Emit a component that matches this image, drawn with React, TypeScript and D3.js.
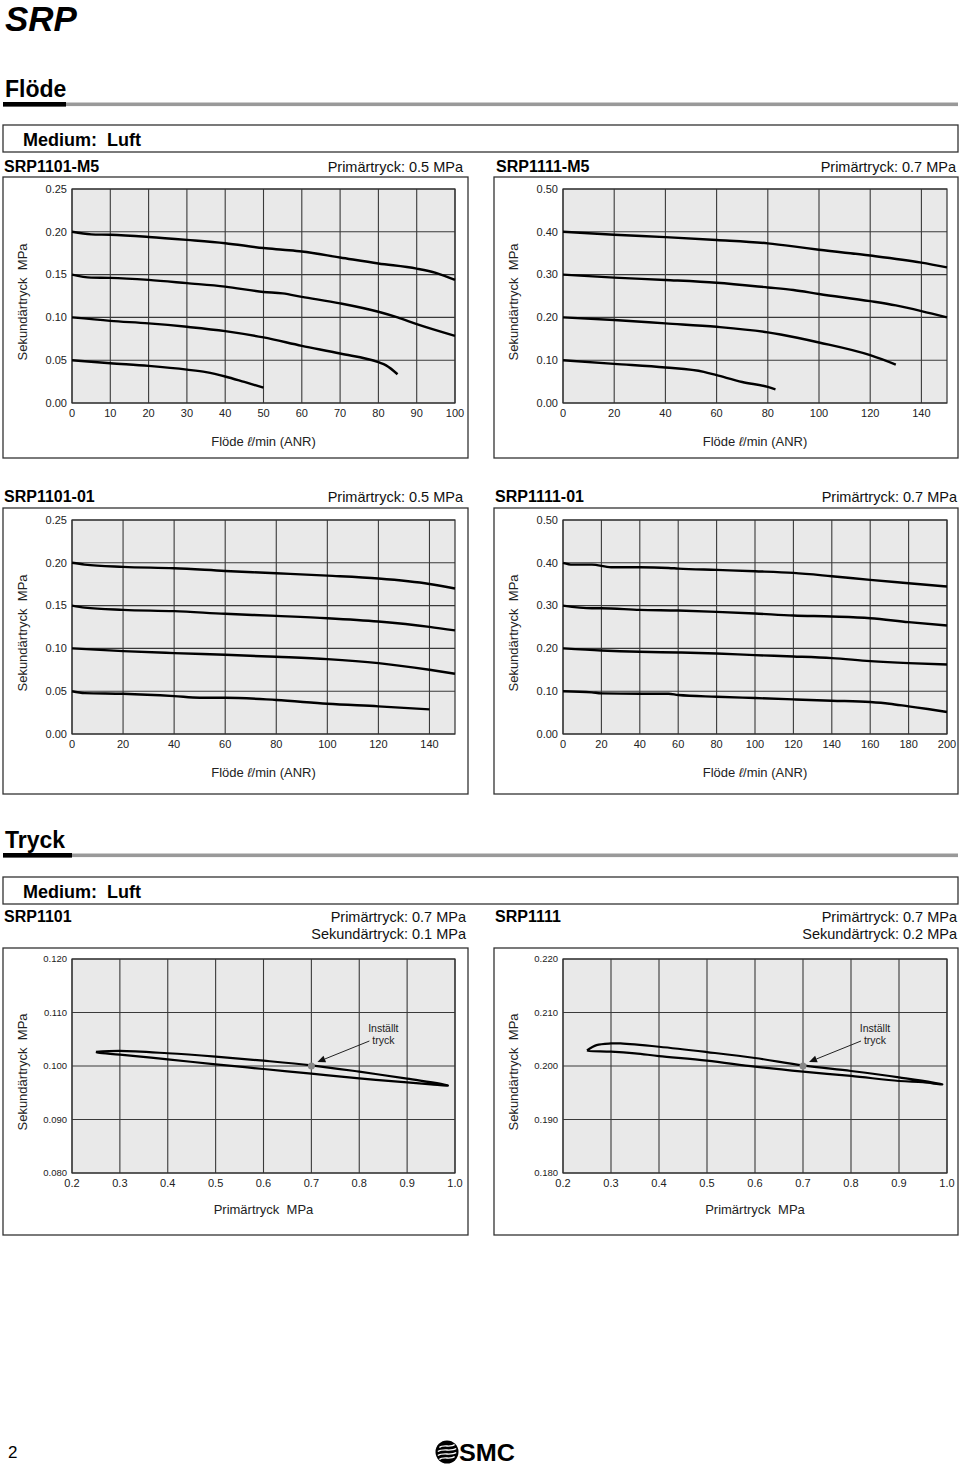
import React from 'react';
import * as d3 from 'd3';

type Pt = [number, number];

const FONT = "'Liberation Sans', Arial, Helvetica, sans-serif";

// ---------- Flöde: SRP1101-M5 (Primärtryck 0.5 MPa) ----------
const m5_1101_xTicks = [0, 10, 20, 30, 40, 50, 60, 70, 80, 90, 100];
const m5_1101_xMax = 100;
const m5_1101_yTicks = [0, 0.05, 0.1, 0.15, 0.2, 0.25];
const m5_1101_s020: Pt[] = [[0, 0.2], [5, 0.197], [10, 0.1965], [20, 0.194], [30, 0.1906], [40, 0.1867], [50, 0.181], [55, 0.179], [60, 0.177], [70, 0.17], [80, 0.163], [90, 0.157], [95, 0.152], [100, 0.1438]];
const m5_1101_s015: Pt[] = [[0, 0.15], [5, 0.1465], [10, 0.1462], [20, 0.1438], [30, 0.14], [40, 0.136], [50, 0.1297], [55, 0.128], [60, 0.124], [70, 0.1164], [80, 0.1066], [85, 0.1], [90, 0.0922], [100, 0.0785]];
const m5_1101_s010: Pt[] = [[0, 0.1], [10, 0.096], [20, 0.093], [30, 0.089], [40, 0.084], [50, 0.0766], [60, 0.0668], [70, 0.0578], [80, 0.0477], [82, 0.044], [85, 0.0336]];
const m5_1101_s005: Pt[] = [[0, 0.05], [10, 0.0465], [20, 0.0434], [30, 0.039], [35, 0.036], [40, 0.031], [45, 0.0246], [50, 0.018]];

// ---------- Flöde: SRP1111-M5 (Primärtryck 0.7 MPa) ----------
const m5_1111_xTicks = [0, 20, 40, 60, 80, 100, 120, 140];
const m5_1111_xMax = 150;
const m5_1111_yTicks = [0, 0.1, 0.2, 0.3, 0.4, 0.5];
const m5_1111_s040: Pt[] = [[0, 0.4], [20, 0.393], [40, 0.3875], [60, 0.381], [80, 0.373], [90, 0.366], [100, 0.358], [120, 0.3445], [140, 0.328], [150, 0.317]];
const m5_1111_s030: Pt[] = [[0, 0.3], [20, 0.293], [40, 0.2875], [60, 0.281], [80, 0.27], [90, 0.264], [100, 0.2547], [120, 0.238], [130, 0.228], [140, 0.2148], [150, 0.2]];
const m5_1111_s020: Pt[] = [[0, 0.2], [20, 0.194], [40, 0.186], [60, 0.178], [80, 0.165], [85, 0.16], [100, 0.1414], [120, 0.1117], [130, 0.0898]];
const m5_1111_s010: Pt[] = [[0, 0.1], [20, 0.0914], [40, 0.083], [55, 0.0727], [60, 0.065], [70, 0.049], [80, 0.0375], [83, 0.032]];

// ---------- Flöde: SRP1101-01 (Primärtryck 0.5 MPa) ----------
const p01_1101_xTicks = [0, 20, 40, 60, 80, 100, 120, 140];
const p01_1101_xMax = 150;
const p01_1101_yTicks = [0, 0.05, 0.1, 0.15, 0.2, 0.25];
const p01_1101_s020: Pt[] = [[0, 0.2], [5, 0.1979], [20, 0.1952], [40, 0.1936], [60, 0.1905], [80, 0.1878], [100, 0.185], [120, 0.1816], [140, 0.1753], [150, 0.17]];
const p01_1101_s015: Pt[] = [[0, 0.15], [5, 0.1477], [20, 0.145], [40, 0.1435], [60, 0.1404], [80, 0.138], [100, 0.1353], [120, 0.1314], [140, 0.1252], [150, 0.121]];
const p01_1101_s010: Pt[] = [[0, 0.1], [20, 0.0968], [40, 0.0945], [60, 0.0925], [80, 0.0902], [100, 0.0875], [120, 0.0828], [140, 0.075], [150, 0.0704]];
const p01_1101_s005: Pt[] = [[0, 0.05], [5, 0.0478], [20, 0.047], [40, 0.0443], [50, 0.0424], [60, 0.0424], [80, 0.0397], [100, 0.0354], [120, 0.0323], [140, 0.0288]];

// ---------- Flöde: SRP1111-01 (Primärtryck 0.7 MPa) ----------
const p01_1111_xTicks = [0, 20, 40, 60, 80, 100, 120, 140, 160, 180, 200];
const p01_1111_xMax = 200;
const p01_1111_yTicks = [0, 0.1, 0.2, 0.3, 0.4, 0.5];
const p01_1111_s040: Pt[] = [[0, 0.4], [5, 0.3958], [15, 0.3958], [25, 0.3896], [40, 0.3896], [55, 0.388], [60, 0.3865], [80, 0.3834], [100, 0.3803], [120, 0.3764], [140, 0.3686], [160, 0.36], [180, 0.3523], [200, 0.3445]];
const p01_1111_s030: Pt[] = [[0, 0.3], [15, 0.2939], [20, 0.2939], [40, 0.29], [60, 0.2885], [80, 0.2854], [100, 0.2815], [120, 0.2768], [140, 0.2745], [160, 0.2706], [180, 0.2613], [200, 0.2535]];
const p01_1111_s020: Pt[] = [[0, 0.2], [20, 0.1952], [40, 0.1921], [60, 0.1905], [80, 0.1882], [100, 0.1843], [120, 0.1812], [140, 0.1773], [160, 0.1703], [180, 0.1656], [200, 0.1625]];
const p01_1111_s010: Pt[] = [[0, 0.1], [15, 0.0973], [20, 0.095], [40, 0.0941], [55, 0.0941], [60, 0.091], [80, 0.0871], [100, 0.084], [120, 0.0809], [140, 0.0778], [160, 0.0747], [170, 0.0708], [180, 0.0645], [190, 0.0583], [200, 0.0513]];

// ---------- Tryck: SRP1101 ----------
const tr_xTicks = [0.2, 0.3, 0.4, 0.5, 0.6, 0.7, 0.8, 0.9, 1.0];
const tr_xMax = 1.0;
const tr1101_yTicks = [0.08, 0.09, 0.1, 0.11, 0.12];
const tr1101_upper: Pt[] = [[0.25, 0.10263], [0.3, 0.10281], [0.4, 0.10238], [0.5, 0.10175], [0.6, 0.101], [0.7, 0.10013], [0.8, 0.09894], [0.9, 0.09763], [0.985, 0.09638]];
const tr1101_lower: Pt[] = [[0.985, 0.09634], [0.95, 0.09656], [0.9, 0.09694], [0.8, 0.09769], [0.7, 0.09856], [0.6, 0.09944], [0.5, 0.10031], [0.4, 0.10125], [0.3, 0.10213], [0.255, 0.1025]];
const tr1101_set: Pt = [0.7, 0.1];

// ---------- Tryck: SRP1111 ----------
const tr1111_yTicks = [0.18, 0.19, 0.2, 0.21, 0.22];
const tr1111_upper: Pt[] = [[0.25, 0.2029], [0.27, 0.2039], [0.3, 0.20422], [0.32, 0.20422], [0.4, 0.2036], [0.5, 0.2026], [0.6, 0.2015], [0.7, 0.2001], [0.8, 0.19907], [0.9, 0.19789], [0.99, 0.19658]];
const tr1111_lower: Pt[] = [[0.99, 0.19655], [0.95, 0.19696], [0.9, 0.1972], [0.8, 0.19814], [0.7, 0.19894], [0.6, 0.19988], [0.5, 0.201], [0.4, 0.20186], [0.35, 0.20236], [0.3, 0.20267], [0.255, 0.2028]];
const tr1111_set: Pt = [0.7, 0.2];

const flowTitle = 'Flöde';
const yTitle = 'Sekundärtryck  MPa';
const trXTitle = 'Primärtryck  MPa';

interface ChartProps {
  boxX: number; boxY: number; boxW: number; boxH: number;
  plotTop: number; plotW: number; plotH: number;
  xTicks: number[]; xMax: number; yTicks: number[]; yDec: number; yFont: number;
  xDec: number;
  curves?: Pt[][];
  loop?: [Pt[], Pt[]];
  setPt?: Pt;
  xTitleKind: 'flow' | 'pressure';
  xTitleGap: number;
}

function Chart(p: ChartProps) {
  const left = p.boxX + 69;
  const top = p.plotTop;
  const x = d3.scaleLinear().domain([p.xTicks[0], p.xMax]).range([left, left + p.plotW]);
  const y = d3.scaleLinear().domain([p.yTicks[0], p.yTicks[p.yTicks.length - 1]]).range([top + p.plotH, top]);
  const line = d3.line<Pt>().x(d => x(d[0])).y(d => y(d[1])).curve(d3.curveMonotoneX);
  const loopLine = d3.line<Pt>().x(d => x(d[0])).y(d => y(d[1])).curve(d3.curveCatmullRom.alpha(0.5));
  const bottom = top + p.plotH;
  const cx = left + p.plotW / 2;
  let loopPath: string | null = null;
  if (p.loop) {
    const pts = [...p.loop[0], ...p.loop[1], p.loop[0][0]];
    loopPath = loopLine(pts);
  }
  return (
    <g>
      <rect x={p.boxX} y={p.boxY} width={p.boxW} height={p.boxH} fill="#fff" stroke="#333" strokeWidth={1.3} />
      <rect x={left} y={top} width={p.plotW} height={p.plotH} fill="#e9e9e9" />
      {p.xTicks.map((t, i) => (
        <line key={'gx' + i} x1={x(t)} x2={x(t)} y1={top} y2={bottom} stroke="#3a3a3a" strokeWidth={1.1} />
      ))}
      {p.yTicks.map((t, i) => (
        <line key={'gy' + i} x1={left} x2={left + p.plotW} y1={y(t)} y2={y(t)} stroke="#3a3a3a" strokeWidth={1.1} />
      ))}
      <rect x={left} y={top} width={p.plotW} height={p.plotH} fill="none" stroke="#333" strokeWidth={1.2} />
      {p.yTicks.map((t, i) => (
        <text key={'ty' + i} x={left - 5} y={y(t)} dy="0.35em" textAnchor="end" fontSize={p.yFont} fontFamily={FONT} fill="#222">
          {t.toFixed(p.yDec)}
        </text>
      ))}
      {p.xTicks.map((t, i) => (
        <text key={'tx' + i} x={x(t)} y={bottom + 14} textAnchor="middle" fontSize={11} fontFamily={FONT} fill="#222">
          {t.toFixed(p.xDec)}
        </text>
      ))}
      <text
        transform={`translate(${p.boxX + 24},${top + p.plotH / 2 + 6}) rotate(-90)`}
        textAnchor="middle" fontSize={13} fontFamily={FONT} fill="#222" style={{ whiteSpace: 'pre' }}>
        {yTitle}
      </text>
      {p.xTitleKind === 'flow' ? (
        <text x={cx} y={bottom + p.xTitleGap} textAnchor="middle" fontSize={13} fontFamily={FONT} fill="#222" style={{ whiteSpace: 'pre' }}>
          {flowTitle + ' '}
          <tspan fontStyle="italic">ℓ</tspan>
          {'/min (ANR)'}
        </text>
      ) : (
        <text x={cx} y={bottom + p.xTitleGap} textAnchor="middle" fontSize={13} fontFamily={FONT} fill="#222" style={{ whiteSpace: 'pre' }}>
          {trXTitle}
        </text>
      )}
      {p.curves && p.curves.map((c, i) => (
        <path key={'c' + i} d={line(c) || ''} fill="none" stroke="#000" strokeWidth={2.4} strokeLinecap="butt" strokeLinejoin="round" />
      ))}
      {loopPath && <path d={loopPath} fill="none" stroke="#000" strokeWidth={2.2} strokeLinejoin="round" />}
      {p.setPt && (() => {
        const px = x(p.setPt[0]);
        const py = y(p.setPt[1]);
        const sx = px + 58, sy = py - 25;
        const tx = px + 6, ty = py - 4;
        const ang = Math.atan2(ty - sy, tx - sx);
        const L = 8, W = 3.5;
        const bx = tx - L * Math.cos(ang), by = ty - L * Math.sin(ang);
        const nx = -Math.sin(ang), ny = Math.cos(ang);
        const tri = `M${tx},${ty} L${bx + nx * W},${by + ny * W} L${bx - nx * W},${by - ny * W} Z`;
        return (
          <g>
            <circle cx={px} cy={py} r={3.5} fill="#888" />
            <line x1={sx} y1={sy} x2={bx} y2={by} stroke="#222" strokeWidth={1} />
            <path d={tri} fill="#111" />
            <text x={px + 72} y={py - 34} textAnchor="middle" fontSize={10.5} fontFamily={FONT} fill="#222">Inställt</text>
            <text x={px + 72} y={py - 22} textAnchor="middle" fontSize={10.5} fontFamily={FONT} fill="#222">tryck</text>
          </g>
        );
      })()}
    </g>
  );
}

function SectionHeader({ title, baseline, barW }: { title: string; baseline: number; barW: number }) {
  return (
    <g>
      <text x={5} y={baseline} fontSize={23} fontWeight="bold" fontFamily={FONT} fill="#000">{title}</text>
      <rect x={3} y={baseline + 5.5} width={955} height={3.6} fill="#999" />
      <rect x={3} y={baseline + 5} width={barW} height={4.6} fill="#000" />
    </g>
  );
}

function MediumBox({ y }: { y: number }) {
  return (
    <g>
      <rect x={3} y={y} width={955} height={27} fill="#fff" stroke="#333" strokeWidth={1.3} />
      <text x={23} y={y + 21} fontSize={18} fontWeight="bold" fontFamily={FONT} fill="#000" style={{ whiteSpace: 'pre' }}>Medium:  Luft</text>
    </g>
  );
}

function Title({ x, y, name, right, rightX, right2 }: { x: number; y: number; name: string; right: string; rightX: number; right2?: string }) {
  return (
    <g>
      <text x={x} y={y} fontSize={16} fontWeight="bold" fontFamily={FONT} fill="#000">{name}</text>
      <text x={rightX} y={y} textAnchor="end" fontSize={14.5} fontFamily={FONT} fill="#111">{right}</text>
      {right2 && <text x={rightX} y={y + 17} textAnchor="end" fontSize={14.5} fontFamily={FONT} fill="#111">{right2}</text>}
    </g>
  );
}

export default function App() {
  return (
    <svg width={960} height={1468} viewBox="0 0 960 1468" style={{ position: 'absolute', left: 0, top: 0, background: '#fff' }}>
      <rect x={0} y={0} width={960} height={1468} fill="#fff" />
      <text x={5} y={31} fontSize={35} fontWeight="bold" fontStyle="italic" fontFamily={FONT} fill="#000">SRP</text>

      <SectionHeader title="Flöde" baseline={97} barW={63} />
      <MediumBox y={125} />

      <Title x={4} y={172} name="SRP1101-M5" right="Primärtryck: 0.5 MPa" rightX={463} />
      <Title x={496} y={172} name="SRP1111-M5" right="Primärtryck: 0.7 MPa" rightX={956} />
      <Chart boxX={3} boxY={177} boxW={465} boxH={281} plotTop={189} plotW={383} plotH={214}
        xTicks={m5_1101_xTicks} xMax={m5_1101_xMax} yTicks={m5_1101_yTicks} yDec={2} yFont={11} xDec={0}
        curves={[m5_1101_s020, m5_1101_s015, m5_1101_s010, m5_1101_s005]} xTitleKind="flow" xTitleGap={43} />
      <Chart boxX={494} boxY={177} boxW={464} boxH={281} plotTop={189} plotW={384} plotH={214}
        xTicks={m5_1111_xTicks} xMax={m5_1111_xMax} yTicks={m5_1111_yTicks} yDec={2} yFont={11} xDec={0}
        curves={[m5_1111_s040, m5_1111_s030, m5_1111_s020, m5_1111_s010]} xTitleKind="flow" xTitleGap={43} />

      <Title x={4} y={502} name="SRP1101-01" right="Primärtryck: 0.5 MPa" rightX={463} />
      <Title x={495} y={502} name="SRP1111-01" right="Primärtryck: 0.7 MPa" rightX={957} />
      <Chart boxX={3} boxY={508} boxW={465} boxH={286} plotTop={520} plotW={383} plotH={214}
        xTicks={p01_1101_xTicks} xMax={p01_1101_xMax} yTicks={p01_1101_yTicks} yDec={2} yFont={11} xDec={0}
        curves={[p01_1101_s020, p01_1101_s015, p01_1101_s010, p01_1101_s005]} xTitleKind="flow" xTitleGap={43} />
      <Chart boxX={494} boxY={508} boxW={464} boxH={286} plotTop={520} plotW={384} plotH={214}
        xTicks={p01_1111_xTicks} xMax={p01_1111_xMax} yTicks={p01_1111_yTicks} yDec={2} yFont={11} xDec={0}
        curves={[p01_1111_s040, p01_1111_s030, p01_1111_s020, p01_1111_s010]} xTitleKind="flow" xTitleGap={43} />

      <SectionHeader title="Tryck" baseline={848} barW={69} />
      <MediumBox y={877} />

      <Title x={4} y={922} name="SRP1101" right="Primärtryck: 0.7 MPa" right2="Sekundärtryck: 0.1 MPa" rightX={466} />
      <Title x={495} y={922} name="SRP1111" right="Primärtryck: 0.7 MPa" right2="Sekundärtryck: 0.2 MPa" rightX={957} />
      <Chart boxX={3} boxY={948} boxW={465} boxH={287} plotTop={959} plotW={383} plotH={214}
        xTicks={tr_xTicks} xMax={tr_xMax} yTicks={tr1101_yTicks} yDec={3} yFont={9.5} xDec={1}
        loop={[tr1101_upper, tr1101_lower]} setPt={tr1101_set} xTitleKind="pressure" xTitleGap={41} />
      <Chart boxX={494} boxY={948} boxW={464} boxH={287} plotTop={959} plotW={384} plotH={214}
        xTicks={tr_xTicks} xMax={tr_xMax} yTicks={tr1111_yTicks} yDec={3} yFont={9.5} xDec={1}
        loop={[tr1111_upper, tr1111_lower]} setPt={tr1111_set} xTitleKind="pressure" xTitleGap={41} />

      <text x={8} y={1458} fontSize={17} fontFamily={FONT} fill="#000">2</text>
      <g>
        <circle cx={447} cy={1452} r={11.5} fill="#000" />
        {[-6, -2, 2, 6].map((o, i) => (
          <path key={i} d={`M${437 + Math.abs(o) * 0.4},${1452 + o + 1.5} C${443},${1452 + o - 2} ${451},${1452 + o + 2} ${457 - Math.abs(o) * 0.4},${1452 + o - 1.5}`}
            fill="none" stroke="#fff" strokeWidth={1.3} />
        ))}
        <text x={459} y={1461} fontSize={24} fontWeight="bold" fontFamily={FONT} fill="#000" textLength={56} lengthAdjust="spacingAndGlyphs">SMC</text>
      </g>
    </svg>
  );
}
